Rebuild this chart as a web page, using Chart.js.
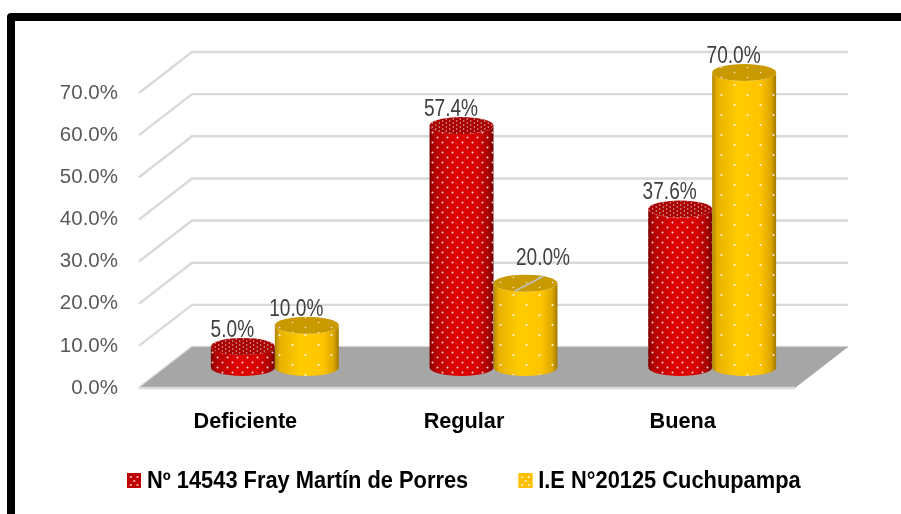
<!DOCTYPE html>
<html>
<head>
<meta charset="utf-8">
<script src="https://cdn.jsdelivr.net/npm/chart.js@4"></script>
<style>
    html, body { margin: 0; background: #fff; overflow: hidden; width: 901px; height: 514px; }
    .frame { position: absolute; left: 7px; top: 13px; width: 1000px; height: 600px; border: 8px solid #000; border-radius: 4px; }
    #chart { position: absolute; left: 0; top: 0; }
    .legend { position: absolute; left: 127px; top: 466px; display: flex; font: bold 23px "Liberation Sans", sans-serif; color: #000; line-height: 28px; white-space: nowrap; transform: scaleX(0.95); transform-origin: left center; }
    .legend div { display: flex; align-items: center; margin-right: 52.6px; }
    .legend canvas { margin-right: 6px; }
</style>
</head>
<body>
<div class="frame"></div>
<canvas id="chart" width="901" height="514"></canvas>
<div class="legend" id="legend"></div>
<script>
/* ── DATOS ── */
const categories = ['Deficiente', 'Regular', 'Buena'];
const seriesNames = ['Nº 14543 Fray Martín de Porres', 'I.E N°20125 Cuchupampa'];
const frayMartin = [5.0, 57.4, 37.6];
const cuchupampa = [10.0, 20.0, 70.0];

/* ── PROFUNDIDAD 3D ── */
const depthX = 53;
const depthY = 41;
const capRy = 8.5;
const wallStops = [0, 0.08, 0.4, 0.75, 0.92, 1];

const looks = [
    {
        wall: ['#7d0000', '#b40000', '#e00000', '#d80000', '#a80000', '#750000'],
        cap: '#a80000',
        dots: { w: 10, h: 10, r: 1 },
        capDots: { w: 7, h: 4, r: 0.7 },
        base: '#c00000'
    },
    {
        wall: ['#b08600', '#e8b000', '#ffcc00', '#ffc400', '#dca600', '#a07800'],
        cap: '#c89a00',
        dots: { w: 26, h: 20, r: 1.1 },
        capDots: { w: 26, h: 10, r: 0.8 },
        base: '#ffc000'
    }
];

/* trama de puntos blancos */
function dotCanvas(d) {
    const c = document.createElement('canvas');
    c.width = d.w;
    c.height = d.h;
    const g = c.getContext('2d');
    g.fillStyle = 'rgba(255,255,255,.85)';
    [[d.w / 4, d.h / 4], [3 * d.w / 4, 3 * d.h / 4]].forEach(p => {
        g.beginPath();
        g.arc(p[0], p[1], d.r, 0, Math.PI * 2);
        g.fill();
    });
    return c;
}

function drawCylinder(ctx, x, yTop, yBase, w, look) {
    const r = w / 2;

    ctx.beginPath();
    ctx.moveTo(x - r, yTop);
    ctx.lineTo(x - r, yBase);
    ctx.ellipse(x, yBase, r, capRy, 0, Math.PI, 0, true);
    ctx.lineTo(x + r, yTop);
    ctx.ellipse(x, yTop, r, capRy, 0, 0, Math.PI, false);
    ctx.closePath();

    const grad = ctx.createLinearGradient(x - r, 0, x + r, 0);
    wallStops.forEach((s, i) => grad.addColorStop(s, look.wall[i]));
    ctx.fillStyle = grad;
    ctx.fill();
    ctx.fillStyle = ctx.createPattern(dotCanvas(look.dots), 'repeat');
    ctx.fill();

    ctx.beginPath();
    ctx.ellipse(x, yTop, r, capRy, 0, 0, Math.PI * 2);
    ctx.fillStyle = look.cap;
    ctx.fill();
    ctx.fillStyle = ctx.createPattern(dotCanvas(look.capDots), 'repeat');
    ctx.fill();
}

/* ── PLANO 3D + CILINDROS ── */
const cylinderScene = {
    id: 'cylinderScene',
    beforeDatasetsDraw(chart) {
        const { ctx, chartArea, scales } = chart;
        const y = scales.y;
        const left = chartArea.left;
        const right = chartArea.right;
        const zero = y.getPixelForValue(0);

        ctx.save();

        // lineas de fondo y diagonales
        ctx.strokeStyle = '#d9d9d9';
        ctx.lineWidth = 2.4;
        y.ticks.forEach(t => {
            const py = y.getPixelForValue(t.value);
            ctx.beginPath();
            ctx.moveTo(left, py);
            ctx.lineTo(left + depthX, py - depthY);
            ctx.lineTo(right + depthX, py - depthY);
            ctx.stroke();
        });

        // piso
        ctx.beginPath();
        ctx.moveTo(left, zero);
        ctx.lineTo(right, zero);
        ctx.lineTo(right + depthX, zero - depthY);
        ctx.lineTo(left + depthX, zero - depthY);
        ctx.closePath();
        ctx.fillStyle = '#a6a6a6';
        ctx.fill();

        ctx.beginPath();
        ctx.moveTo(left, zero);
        ctx.lineTo(right, zero);
        ctx.stroke();

        // cilindros, en orden de serie
        chart.data.datasets.forEach((ds, di) => {
            chart.getDatasetMeta(di).data.forEach(bar => {
                drawCylinder(
                    ctx,
                    bar.x + depthX / 2,
                    bar.y - depthY / 2,
                    bar.base - depthY / 2,
                    bar.width,
                    looks[di]
                );
            });
        });

        // etiquetas
        ctx.font = '23px "Liberation Sans", sans-serif';
        ctx.textAlign = 'center';
        ctx.textBaseline = 'middle';
        chart.data.datasets.forEach((ds, di) => {
            chart.getDatasetMeta(di).data.forEach((bar, i) => {
                const cx = bar.x + depthX / 2;
                const cy = bar.y - depthY / 2;
                const moved = ds.data[i] === 20;

                if (moved) {
                    ctx.strokeStyle = '#bfbfbf';
                    ctx.lineWidth = 1.5;
                    ctx.beginPath();
                    ctx.moveTo(cx - 11, cy + 8);
                    ctx.lineTo(cx + 18, cy - 7);
                    ctx.stroke();
                }

                const dx = moved ? 17.5 : -10.5;
                const dy = moved ? -25 : -16;

                ctx.save();
                ctx.translate(cx + dx, cy + dy);
                ctx.scale(0.83, 1);
                ctx.fillStyle = '#404040';
                ctx.fillText(ds.data[i].toFixed(1) + '%', 0, 0);
                ctx.restore();
            });
        });

        ctx.restore();
        return false;
    }
};

/* ── GRÁFICO ── */
const chart = new Chart(document.getElementById('chart'), {
    type: 'bar',
    data: {
        labels: categories,
        datasets: [
            { label: seriesNames[0], data: frayMartin, backgroundColor: '#c00000' },
            { label: seriesNames[1], data: cuchupampa, backgroundColor: '#ffc000' }
        ]
    },
    plugins: [cylinderScene],
    options: {
        responsive: false,
        animation: false,
        barPercentage: 1,
        categoryPercentage: 0.585,
        layout: {
            padding: { left: 60, right: 106, top: 93, bottom: 0 }
        },
        plugins: {
            legend: { display: false },
            tooltip: { enabled: false }
        },
        scales: {
            x: {
                grid: { display: false },
                border: { display: false },
                afterFit(scale) { scale.height = 126; },
                ticks: {
                    color: '#000',
                    padding: 13,
                    labelOffset: -3,
                    maxRotation: 0,
                    font: { family: '"Liberation Sans", sans-serif', size: 21.7, weight: 'bold' }
                }
            },
            y: {
                min: 0,
                max: 70,
                grid: { display: false, drawTicks: false },
                border: { display: false },
                afterFit(scale) { scale.width = 79; },
                ticks: {
                    stepSize: 10,
                    color: '#595959',
                    padding: 21,
                    font: { family: '"Liberation Sans", sans-serif', size: 20.5 },
                    callback: v => v.toFixed(1) + '%'
                }
            }
        }
    }
});

/* ── LEYENDA ── */
const legendEl = document.getElementById('legend');
chart.data.datasets.forEach((ds, i) => {
    const item = document.createElement('div');
    const swatch = document.createElement('canvas');
    swatch.width = 15;
    swatch.height = 15;
    const g = swatch.getContext('2d');
    g.fillStyle = looks[i].base;
    g.fillRect(0, 0, 15, 15);
    g.fillStyle = 'rgba(255,255,255,.9)';
    [[4, 4], [11, 4], [7.5, 8], [4, 12], [11, 12]].forEach(p => {
        g.beginPath();
        g.arc(p[0], p[1], 1, 0, Math.PI * 2);
        g.fill();
    });
    item.appendChild(swatch);
    item.appendChild(document.createTextNode(ds.label));
    legendEl.appendChild(item);
});
</script>
</body>
</html>
